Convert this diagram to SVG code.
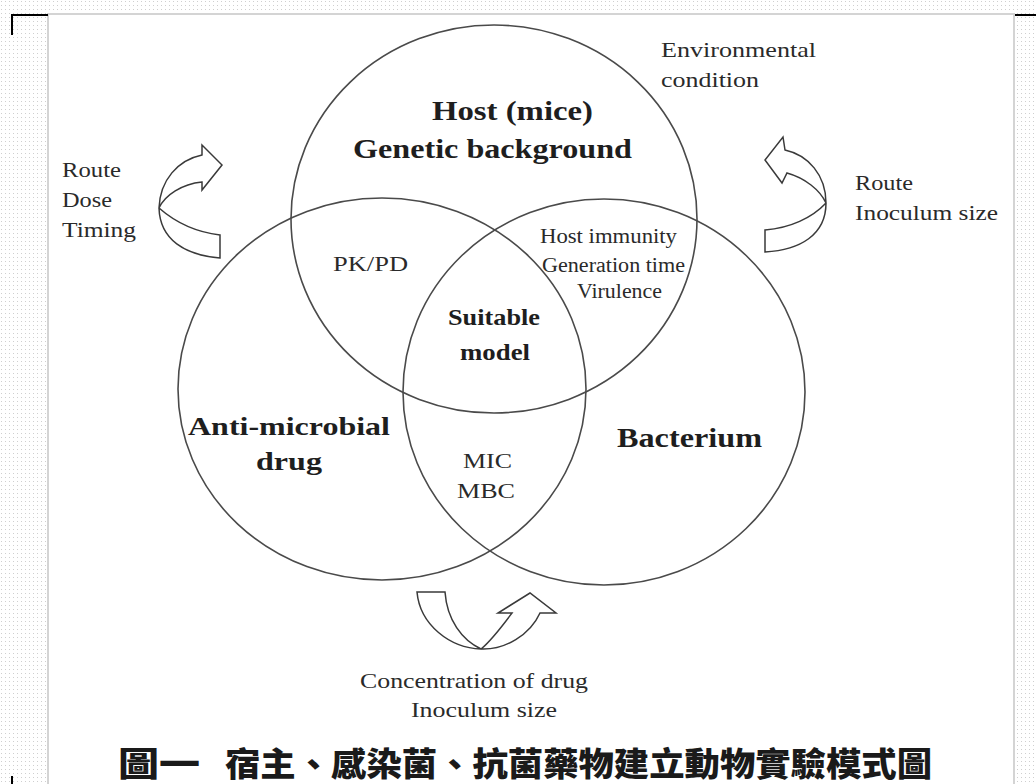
<svg xmlns="http://www.w3.org/2000/svg" width="1036" height="784" viewBox="0 0 1036 784">
<defs>
<pattern id="dots" x="0" y="0" width="4" height="4" patternUnits="userSpaceOnUse">
<rect x="1" y="1" width="1" height="1" fill="#cfcfcf"/>
</pattern>
</defs>
<style>
.ring{fill:none;stroke:#4a4a4a;stroke-width:1.6}
.arr{fill:#fff;stroke:#3a3a3a;stroke-width:1.5;stroke-linejoin:miter}
.t{font-family:"Liberation Serif","Times New Roman",serif;fill:#2a2a2a}
.b{font-family:"Liberation Serif","Times New Roman",serif;font-weight:bold;fill:#1e1e1e}
.cap{font-family:"Noto Sans CJK TC","Noto Sans CJK SC",sans-serif;font-weight:900;fill:#1a1a1a}
.mark{stroke:#000;stroke-width:2;fill:none}
</style>
<rect width="1036" height="784" fill="#fff"/>
<rect width="1036" height="784" fill="url(#dots)"/>
<rect x="48" y="14" width="966" height="772" fill="#fff" stroke="#d4d4d4" stroke-width="2"/>
<path class="mark" d="M12,35 V15 H48"/>
<path class="mark" d="M1015,15 H1036"/>
<path class="mark" d="M12,776 V784"/>

<g id="host">
<ellipse class="ring" cx="494" cy="219" rx="203" ry="194"/>
<text class="b" x="512.5" y="120" font-size="28" text-anchor="middle" textLength="161" lengthAdjust="spacingAndGlyphs">Host (mice)</text>
<text class="b" x="492.5" y="158" font-size="28" text-anchor="middle" textLength="279" lengthAdjust="spacingAndGlyphs">Genetic background</text>
</g>
<g id="drug">
<ellipse class="ring" cx="382" cy="389" rx="204" ry="191"/>
<text class="b" x="289" y="435" font-size="26" text-anchor="middle" textLength="202" lengthAdjust="spacingAndGlyphs">Anti-microbial</text>
<text class="b" x="289" y="470" font-size="26" text-anchor="middle" textLength="66" lengthAdjust="spacingAndGlyphs">drug</text>
</g>
<g id="bacterium">
<ellipse class="ring" cx="604" cy="392" rx="201" ry="193"/>
<text class="b" x="689.5" y="447" font-size="28" text-anchor="middle" textLength="145" lengthAdjust="spacingAndGlyphs">Bacterium</text>
</g>
<g id="pkpd">
<text class="t" x="333" y="271" font-size="21" textLength="75" lengthAdjust="spacingAndGlyphs">PK/PD</text>
</g>
<g id="host-bacterium">
<text class="t" x="540" y="243" font-size="20" textLength="137" lengthAdjust="spacingAndGlyphs">Host immunity</text>
<text class="t" x="542" y="272" font-size="20" textLength="143" lengthAdjust="spacingAndGlyphs">Generation time</text>
<text class="t" x="577" y="298" font-size="20" textLength="85" lengthAdjust="spacingAndGlyphs">Virulence</text>
</g>
<g id="suitable">
<text class="b" x="494" y="325" font-size="23" text-anchor="middle" textLength="92" lengthAdjust="spacingAndGlyphs">Suitable</text>
<text class="b" x="495" y="360" font-size="23" text-anchor="middle" textLength="70" lengthAdjust="spacingAndGlyphs">model</text>
</g>
<g id="mic">
<text class="t" x="487.5" y="468" font-size="21" text-anchor="middle" textLength="49" lengthAdjust="spacingAndGlyphs">MIC</text>
<text class="t" x="486" y="498" font-size="21" text-anchor="middle" textLength="58" lengthAdjust="spacingAndGlyphs">MBC</text>
</g>
<g id="environment">
<text class="t" x="661" y="57" font-size="21" textLength="155" lengthAdjust="spacingAndGlyphs">Environmental</text>
<text class="t" x="661" y="87" font-size="21" textLength="98" lengthAdjust="spacingAndGlyphs">condition</text>
</g>
<g id="left-factors">
<text class="t" x="62" y="177" font-size="22" textLength="59" lengthAdjust="spacingAndGlyphs">Route</text>
<text class="t" x="62" y="207" font-size="22" textLength="50" lengthAdjust="spacingAndGlyphs">Dose</text>
<text class="t" x="62" y="237" font-size="22" textLength="74" lengthAdjust="spacingAndGlyphs">Timing</text>
</g>
<g id="right-factors">
<text class="t" x="855" y="190" font-size="22" textLength="58" lengthAdjust="spacingAndGlyphs">Route</text>
<text class="t" x="855" y="220" font-size="22" textLength="143" lengthAdjust="spacingAndGlyphs">Inoculum size</text>
</g>
<g id="bottom-factors">
<text class="t" x="474" y="688" font-size="21" text-anchor="middle" textLength="228" lengthAdjust="spacingAndGlyphs">Concentration of drug</text>
<text class="t" x="484" y="717" font-size="21" text-anchor="middle" textLength="146" lengthAdjust="spacingAndGlyphs">Inoculum size</text>
</g>
<g id="connectors">
<path class="arr" d="M220,258 C185,255 160,240 159,208 C160,180 178,160 202,155 L202,145 L222,165 L202,190 L202,182 C182,184 165,195 159,208 C175,222 195,232 220,235 Z"/>
<path class="arr" d="M765,252 C800,250 826,235 826,203 C826,175 808,155 785,150 L783,137 L765,160 L782,183 L787,173 C805,178 820,190 826,203 C812,218 790,228 765,230 Z"/>
<path class="arr" d="M417,592 L445,592 C447,620 462,640 481,649 C492,640 503,625 512,613 L498,613 L530,593 L556,613 L540,613 C530,635 505,650 481,649 C450,648 420,625 417,592 Z"/>
</g>
<g id="caption">
<text class="cap" x="118" y="776" font-size="33" textLength="82" lengthAdjust="spacingAndGlyphs">圖一</text>
<text class="cap" x="225" y="776" font-size="33" textLength="707" lengthAdjust="spacingAndGlyphs">宿主、感染菌、抗菌藥物建立動物實驗模式圖</text>
</g>
</svg>
